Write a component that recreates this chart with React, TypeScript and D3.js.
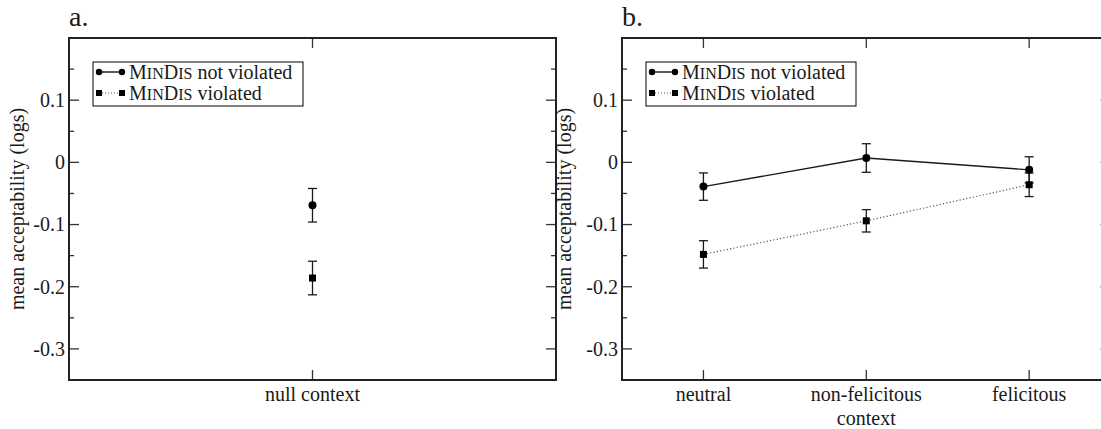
import React from "react";
import * as d3 from "d3";

// Mean acceptability (log scale) by context, with standard-error bars
const panelACategories = ["null context"];
const panelANotViolated = [-0.069];
const panelANotViolatedErr = [0.027];
const panelAViolated = [-0.186];
const panelAViolatedErr = [0.027];

const panelBCategories = ["neutral", "non-felicitous", "felicitous"];
const panelBNotViolated = [-0.039, 0.007, -0.012];
const panelBNotViolatedErr = [0.022, 0.023, 0.021];
const panelBViolated = [-0.148, -0.094, -0.036];
const panelBViolatedErr = [0.022, 0.018, 0.019];

const yMajorTicks = [0.1, 0, -0.1, -0.2, -0.3];
const yMinorTicks = [0.15, 0.05, -0.05, -0.15, -0.25];
const yTickLabels = ["0.1", "0", "-0.1", "-0.2", "-0.3"];
const yDomain: [number, number] = [-0.35, 0.2];

const FONT = "'Liberation Serif', 'Times New Roman', serif";
const INK = "#1a1a1a";

type Series = { values: number[]; errs: number[] };

function SmallCapsLabel({ x, y, rest }: { x: number; y: number; rest: string }) {
  return (
    <text x={x} y={y} fontFamily={FONT} fontSize={20} fill={INK}>
      <tspan>M</tspan>
      <tspan fontSize={16}>IN</tspan>
      <tspan>D</tspan>
      <tspan fontSize={16}>IS</tspan>
      <tspan>{" " + rest}</tspan>
    </text>
  );
}

function Panel({
  title,
  left,
  right,
  top,
  bottom,
  categories,
  notViolated,
  violated,
  xTitle,
  yLabelX,
}: {
  title: string;
  left: number;
  right: number;
  top: number;
  bottom: number;
  categories: string[];
  notViolated: Series;
  violated: Series;
  xTitle?: string;
  yLabelX: number;
}) {
  const x = d3.scalePoint<string>().domain(categories).range([left, right]).padding(0.5);
  const y = d3.scaleLinear().domain(yDomain).range([bottom, top]);
  const line = d3
    .line<number>()
    .x((_, i) => x(categories[i]) as number)
    .y((d) => y(d));
  const cap = 4.5;

  const errorBars = (s: Series, key: string) =>
    s.values.map((v, i) => {
      const cx = x(categories[i]) as number;
      const y0 = y(v + s.errs[i]);
      const y1 = y(v - s.errs[i]);
      return (
        <g key={key + i} stroke={INK} strokeWidth={1.3}>
          <line x1={cx} x2={cx} y1={y0} y2={y1} />
          <line x1={cx - cap} x2={cx + cap} y1={y0} y2={y0} />
          <line x1={cx - cap} x2={cx + cap} y1={y1} y2={y1} />
        </g>
      );
    });

  const legX = left + 24;
  const legY = 62;

  return (
    <g>
      <text x={left} y={26} fontFamily={FONT} fontSize={28} fill={INK}>
        {title}
      </text>

      {/* y tick labels */}
      {yMajorTicks.map((t, i) => (
        <text
          key={"yl" + i}
          x={left - 4}
          y={y(t)}
          dy="0.34em"
          textAnchor="end"
          fontFamily={FONT}
          fontSize={20}
          fill={INK}
        >
          {yTickLabels[i]}
        </text>
      ))}

      {/* inward ticks on left and right */}
      <g stroke="#333" strokeWidth={1.3}>
        {yMajorTicks.map((t, i) => (
          <g key={"ymj" + i}>
            <line x1={left} x2={left + 10} y1={y(t)} y2={y(t)} />
            <line x1={right} x2={right - 10} y1={y(t)} y2={y(t)} />
          </g>
        ))}
        {yMinorTicks.map((t, i) => (
          <g key={"ymn" + i}>
            <line x1={left} x2={left + 5} y1={y(t)} y2={y(t)} />
            <line x1={right} x2={right - 5} y1={y(t)} y2={y(t)} />
          </g>
        ))}
        {categories.map((c) => (
          <g key={"xt" + c}>
            <line x1={x(c)} x2={x(c)} y1={top} y2={top + 10} />
            <line x1={x(c)} x2={x(c)} y1={bottom} y2={bottom - 10} />
          </g>
        ))}
      </g>

      {/* x tick labels */}
      {categories.map((c) => (
        <text
          key={"xl" + c}
          x={x(c)}
          y={bottom + 21}
          textAnchor="middle"
          fontFamily={FONT}
          fontSize={20}
          fill={INK}
        >
          {c}
        </text>
      ))}
      {xTitle && (
        <text
          x={(left + right) / 2}
          y={bottom + 45}
          textAnchor="middle"
          fontFamily={FONT}
          fontSize={20}
          fill={INK}
        >
          {xTitle}
        </text>
      )}

      <text
        transform={`translate(${yLabelX},${(top + bottom) / 2}) rotate(-90)`}
        textAnchor="middle"
        fontFamily={FONT}
        fontSize={20}
        fill={INK}
      >
        mean acceptability (logs)
      </text>

      {/* connecting lines */}
      {categories.length > 1 && (
        <>
          <path d={line(violated.values) || ""} fill="none" stroke="#555" strokeWidth={1.2} strokeDasharray="1.2,2.2" />
          <path d={line(notViolated.values) || ""} fill="none" stroke={INK} strokeWidth={1.3} />
        </>
      )}

      {errorBars(notViolated, "nv")}
      {errorBars(violated, "v")}

      {notViolated.values.map((v, i) => (
        <circle key={"c" + i} cx={x(categories[i])} cy={y(v)} r={4} fill="#000" />
      ))}
      {violated.values.map((v, i) => (
        <rect
          key={"s" + i}
          x={(x(categories[i]) as number) - 3.5}
          y={y(v) - 3.5}
          width={7}
          height={7}
          fill="#000"
        />
      ))}

      {/* legend */}
      <rect x={legX} y={legY} width={210} height={44} fill="#fff" stroke="#000" strokeWidth={1} />
      <line x1={legX + 6} x2={legX + 29} y1={legY + 10} y2={legY + 10} stroke="#000" strokeWidth={1.3} />
      <circle cx={legX + 6} cy={legY + 10} r={3.2} fill="#000" />
      <circle cx={legX + 29} cy={legY + 10} r={3.2} fill="#000" />
      <line
        x1={legX + 6}
        x2={legX + 29}
        y1={legY + 31}
        y2={legY + 31}
        stroke="#555"
        strokeWidth={1}
        strokeDasharray="1,2"
      />
      <rect x={legX + 3} y={legY + 28} width={6} height={6} fill="#000" />
      <rect x={legX + 26} y={legY + 28} width={6} height={6} fill="#000" />
      <SmallCapsLabel x={legX + 36} y={legY + 17} rest="not violated" />
      <SmallCapsLabel x={legX + 36} y={legY + 38} rest="violated" />

      {/* frame */}
      <rect x={left} y={top} width={right - left} height={bottom - top} fill="none" stroke="#222" strokeWidth={2} />
    </g>
  );
}

export default function App() {
  const width = 1101;
  const height = 429;
  const top = 38;
  const bottom = 380;
  return (
    <svg
      width={width}
      height={height}
      style={{ position: "absolute", left: 0, top: 0, background: "#fff" }}
    >
      <rect width={width} height={height} fill="#fff" />
      <Panel
        title="a."
        left={69}
        right={556}
        top={top}
        bottom={bottom}
        categories={panelACategories}
        notViolated={{ values: panelANotViolated, errs: panelANotViolatedErr }}
        violated={{ values: panelAViolated, errs: panelAViolatedErr }}
        yLabelX={24}
      />
      <Panel
        title="b."
        left={622}
        right={1110.6}
        top={top}
        bottom={bottom}
        categories={panelBCategories}
        notViolated={{ values: panelBNotViolated, errs: panelBNotViolatedErr }}
        violated={{ values: panelBViolated, errs: panelBViolatedErr }}
        xTitle="context"
        yLabelX={571}
      />
    </svg>
  );
}
